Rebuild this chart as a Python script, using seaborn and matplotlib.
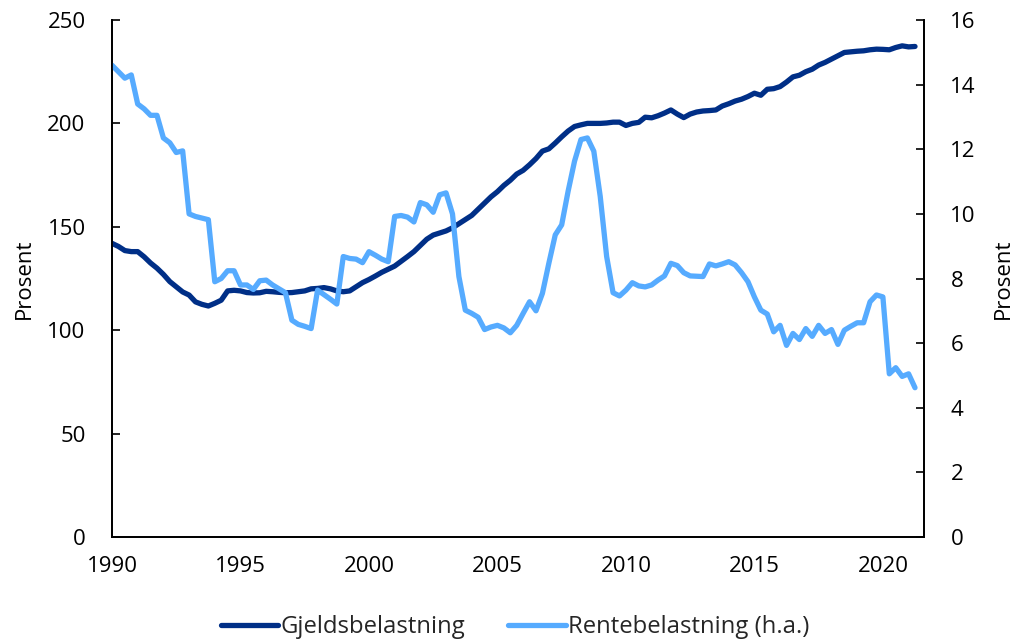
import numpy as np
import pandas as pd
import matplotlib
matplotlib.use("Agg")
import matplotlib.pyplot as plt
import seaborn as sns

# Quarterly data, 1990Q1 - 2021Q2
start_year = 1990
gjeld = [
    142.0, 140.5, 138.5, 138.0,   # 1990
    138.0, 135.5, 132.5, 130.0,   # 1991
    127.0, 123.5, 121.0, 118.5,   # 1992
    117.0, 113.7, 112.5, 111.7,   # 1993
    113.0, 114.5, 119.0, 119.3,   # 1994
    119.0, 118.2, 118.0, 118.1,   # 1995
    118.8, 118.6, 118.3, 118.1,   # 1996
    118.2, 118.6, 119.0, 120.0,   # 1997
    120.2, 120.6, 120.0, 119.0,   # 1998
    118.6, 119.0, 121.0, 123.0,   # 1999
    124.5, 126.2, 128.0, 129.5,   # 2000
    131.0, 133.3, 135.6, 138.0,   # 2001
    141.0, 144.0, 146.0, 147.0,   # 2002
    148.0, 149.5, 151.5, 153.5,   # 2003
    155.5, 158.5, 161.5, 164.5,   # 2004
    167.0, 170.0, 172.5, 175.5,   # 2005
    177.3, 180.0, 183.0, 186.6,   # 2006
    187.7, 190.5, 193.5, 196.3,   # 2007
    198.5, 199.3, 200.0, 200.0,   # 2008
    200.0, 200.2, 200.6, 200.6,   # 2009
    199.0, 200.0, 200.5, 203.0,   # 2010
    202.7, 203.7, 205.0, 206.5,   # 2011
    204.5, 202.8, 204.5, 205.5,   # 2012
    206.0, 206.2, 206.5, 208.4,   # 2013
    209.5, 210.8, 211.7, 213.0,   # 2014
    214.6, 213.6, 216.5, 216.8,   # 2015
    217.8, 220.0, 222.5, 223.3,   # 2016
    225.0, 226.2, 228.2, 229.5,   # 2017
    231.1, 232.7, 234.3, 234.6,   # 2018
    234.9, 235.1, 235.6, 235.9,   # 2019
    235.8, 235.6, 236.7, 237.5,   # 2020
    237.0, 237.2,                 # 2021
]
rente = [
    14.6, 14.4, 14.2, 14.3,       # 1990
    13.4, 13.25, 13.05, 13.05,    # 1991
    12.35, 12.2, 11.9, 11.95,     # 1992
    10.0, 9.92, 9.87, 9.82,       # 1993
    7.9, 8.0, 8.24, 8.24,         # 1994
    7.8, 7.8, 7.66, 7.93,         # 1995
    7.95, 7.8, 7.68, 7.56,        # 1996
    6.71, 6.58, 6.52, 6.45,       # 1997
    7.64, 7.5, 7.36, 7.21,        # 1998
    8.68, 8.62, 8.6, 8.49,        # 1999
    8.83, 8.72, 8.6, 8.52,        # 2000
    9.92, 9.95, 9.9, 9.75,        # 2001
    10.35, 10.28, 10.05, 10.59,   # 2002
    10.65, 10.0, 8.06, 7.02,      # 2003
    6.92, 6.8, 6.42, 6.5,         # 2004
    6.55, 6.47, 6.32, 6.55,       # 2005
    6.92, 7.28, 7.0, 7.54,        # 2006
    8.47, 9.35, 9.66, 10.7,       # 2007
    11.63, 12.3, 12.35, 11.94,    # 2008
    10.54, 8.68, 7.56, 7.46,      # 2009
    7.64, 7.87, 7.77, 7.74,       # 2010
    7.8, 7.95, 8.08, 8.47,        # 2011
    8.4, 8.18, 8.08, 8.07,        # 2012
    8.06, 8.45, 8.39, 8.45,       # 2013
    8.52, 8.42, 8.18, 7.9,        # 2014
    7.43, 7.02, 6.9, 6.35,        # 2015
    6.55, 5.93, 6.3, 6.11,        # 2016
    6.45, 6.21, 6.55, 6.3,        # 2017
    6.42, 5.96, 6.4, 6.52,        # 2018
    6.63, 6.63, 7.28, 7.49,       # 2019
    7.43, 5.05, 5.24, 4.97,       # 2020
    5.05, 4.62,                   # 2021
]
label_gjeld = "Gjeldsbelastning"
label_rente = "Rentebelastning (h.a.)"
x_ticks = [1990, 1995, 2000, 2005, 2010, 2015, 2020]
left_ticks = [0, 50, 100, 150, 200, 250]
right_ticks = [0, 2, 4, 6, 8, 10, 12, 14, 16]

n = len(gjeld)
time = start_year + np.arange(n) / 4.0
df = pd.DataFrame({"time": time, "gjeld": gjeld, "rente": rente})

sns.set_theme(style="white")
plt.rcParams["font.family"] = ["Open Sans", "DejaVu Sans"]
fs = 16

navy = "#002F87"
light = "#56ABFF"

fig = plt.figure(figsize=(10.13, 6.42), dpi=100)
ax = fig.add_axes([112 / 1013, 1 - 537 / 642, (924 - 112) / 1013, (537 - 20) / 642])
ax2 = ax.twinx()

sns.lineplot(data=df, x="time", y="gjeld", ax=ax, color=navy, linewidth=3.8,
             label=label_gjeld, legend=False)
sns.lineplot(data=df, x="time", y="rente", ax=ax2, color=light, linewidth=3.8,
             label=label_rente, legend=False)

ax.set_xlim(1990, 2021.6)
ax.set_ylim(0, 250)
ax2.set_ylim(0, 16)
ax.set_xticks(x_ticks)
ax.set_yticks(left_ticks)
ax2.set_yticks(right_ticks)

for a in (ax, ax2):
    a.spines["top"].set_visible(False)
    for s in ("left", "right", "bottom"):
        a.spines[s].set_color("black")
        a.spines[s].set_linewidth(1.3)
    a.grid(False)

ax.tick_params(axis="y", direction="in", length=6, width=1.2, pad=19,
               labelsize=fs, colors="black")
ax.tick_params(axis="x", direction="in", length=6, width=1.2, pad=14,
               labelsize=fs, colors="black")
ax2.tick_params(axis="y", direction="in", length=6, width=1.2, pad=19,
                labelsize=fs, colors="black")

ax.set_xlabel("")
ax.set_ylabel("Prosent", fontsize=fs, color="black", labelpad=9)
ax2.set_ylabel("Prosent", fontsize=fs, color="black", rotation=90, labelpad=12)

h1, l1 = ax.get_legend_handles_labels()
h2, l2 = ax2.get_legend_handles_labels()
fig.legend(h1 + h2, l1 + l2, loc="center", bbox_to_anchor=(515 / 1013, 1 - 627 / 642),
           ncol=2, frameon=False, fontsize=17.2, handlelength=2.4,
           handletextpad=0.1, columnspacing=1.8)

fig.savefig("out.png", dpi=100)
